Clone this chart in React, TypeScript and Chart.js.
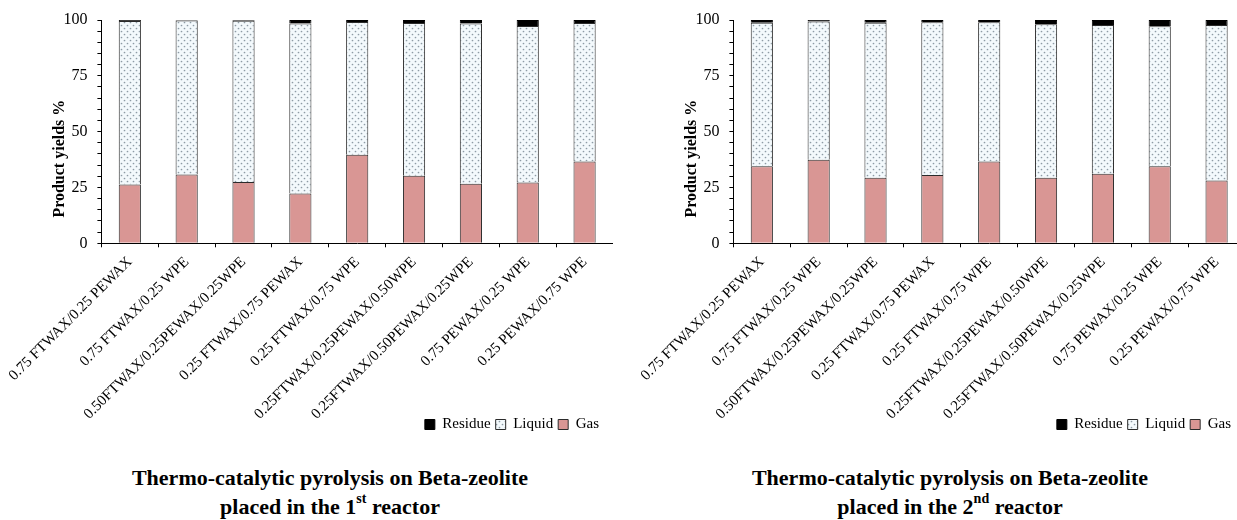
import React, { useEffect, useRef } from 'react';
import { Chart, registerables } from 'chart.js';

Chart.register(...registerables);

const FONT = "'Liberation Serif', 'Times New Roman', serif";

const categories = [
  '0.75 FTWAX/0.25 PEWAX',
  '0.75 FTWAX/0.25 WPE',
  '0.50FTWAX/0.25PEWAX/0.25WPE',
  '0.25 FTWAX/0.75 PEWAX',
  '0.25 FTWAX/0.75 WPE',
  '0.25FTWAX/0.25PEWAX/0.50WPE',
  '0.25FTWAX/0.50PEWAX/0.25WPE',
  '0.75 PEWAX/0.25 WPE',
  '0.25 PEWAX/0.75 WPE',
];

const yTickLabels = [0, 25, 50, 75, 100];

// Beta-zeolite in the 1st reactor
const gasReactor1 = [26.3, 30.8, 27.5, 22.3, 39.7, 30.3, 26.7, 27.2, 36.6];
const liquidReactor1 = [73.2, 69.0, 72.2, 76.1, 59.4, 68.4, 71.7, 70.1, 62.1];
const residueReactor1 = [0.5, 0.2, 0.3, 1.6, 0.9, 1.3, 1.6, 2.7, 1.3];

// Beta-zeolite in the 2nd reactor
const gasReactor2 = [34.5, 37.4, 29.4, 30.6, 36.6, 29.4, 31.1, 34.5, 28.1];
const liquidReactor2 = [64.3, 61.9, 69.4, 68.4, 62.4, 68.7, 66.7, 62.7, 69.7];
const residueReactor2 = [1.2, 0.7, 1.2, 1.0, 1.0, 1.9, 2.2, 2.8, 2.2];

const CANVAS_W = 613;
const CANVAS_H = 442;
const LEGEND_RIGHT = 604;

function dottedPattern(ctx: CanvasRenderingContext2D): CanvasPattern | string {
  const tile = document.createElement('canvas');
  tile.width = 6;
  tile.height = 6;
  const t = tile.getContext('2d');
  if (!t) return '#f3f9fc';
  t.fillStyle = '#f3f9fc';
  t.fillRect(0, 0, 6, 6);
  t.fillStyle = '#8d9ba4';
  t.beginPath();
  t.arc(1.5, 1.5, 0.85, 0, Math.PI * 2);
  t.arc(4.5, 4.5, 0.85, 0, Math.PI * 2);
  t.fill();
  return ctx.createPattern(tile, 'repeat') || '#f3f9fc';
}

// Layout tweaks: long category labels may run past the axis box into the
// legend row, the legend ends short of the plot's right edge, and the
// rotated value-axis caption sits slightly below the middle of the axis.
const layoutPlugin = {
  id: 'yieldLayout',
  afterLayout(chart: any) {
    const lg = chart.legend;
    if (lg) {
      lg.right = LEGEND_RIGHT;
      lg.width = lg.right - lg.left;
    }
    const x = chart.scales.x;
    if (x) x.bottom = chart.height;
  },
  afterDraw(chart: any) {
    const { ctx, chartArea } = chart;
    ctx.save();
    ctx.translate(chartArea.left - 42, (chartArea.top + chartArea.bottom) / 2 + 27);
    ctx.rotate(-Math.PI / 2);
    ctx.font = `bold 16px ${FONT}`;
    ctx.fillStyle = '#000';
    ctx.textAlign = 'center';
    ctx.textBaseline = 'middle';
    ctx.fillText('Product yields %', 0, 0);
    ctx.restore();
  },
};

function YieldChart({ gas, liquid, residue }: { gas: number[]; liquid: number[]; residue: number[] }) {
  const ref = useRef<HTMLCanvasElement | null>(null);

  useEffect(() => {
    const canvas = ref.current;
    if (!canvas) return;
    const ctx = canvas.getContext('2d');
    if (!ctx) return;
    const liquidFill = dottedPattern(ctx);
    const border = '#2b2b2b';

    const chart = new Chart(canvas, {
      type: 'bar',
      data: {
        labels: categories,
        datasets: [
          {
            label: 'Gas',
            data: gas,
            backgroundColor: '#d99694',
            borderColor: border,
            borderWidth: 1,
          },
          {
            label: 'Liquid',
            data: liquid,
            backgroundColor: liquidFill as any,
            borderColor: border,
            borderWidth: 1,
          },
          {
            label: 'Residue',
            data: residue,
            backgroundColor: '#000000',
            borderColor: '#000000',
            borderWidth: 1,
          },
        ],
      },
      options: {
        animation: false,
        responsive: false,
        maintainAspectRatio: false,
        datasets: { bar: { categoryPercentage: 1, barPercentage: 0.39 } },
        layout: { padding: { top: 20, left: 0, right: 0, bottom: 0 } },
        plugins: {
          legend: {
            position: 'bottom',
            align: 'end',
            reverse: true,
            labels: {
              boxWidth: 10,
              boxHeight: 10,
              padding: 5,
              color: '#000',
              font: { family: FONT, size: 15 },
            },
          },
          tooltip: { enabled: false },
        },
        scales: {
          x: {
            stacked: true,
            grid: {
              display: true,
              drawOnChartArea: false,
              drawTicks: true,
              tickLength: 4,
              color: '#000',
              offset: true,
            },
            border: { display: true, color: '#000', width: 1 },
            ticks: {
              autoSkip: false,
              minRotation: 45,
              maxRotation: 45,
              padding: 6,
              color: '#000',
              font: { family: FONT, size: 15 },
            },
            afterFit(scale: any) {
              scale.height = 168.7;
            },
          },
          y: {
            stacked: true,
            min: 0,
            max: 100,
            grid: {
              display: true,
              drawOnChartArea: false,
              drawTicks: true,
              tickLength: 4,
              color: '#000',
            },
            border: { display: true, color: '#000', width: 1 },
            ticks: {
              stepSize: 5,
              autoSkip: false,
              padding: 10,
              color: '#000',
              font: { family: FONT, size: 16 },
              callback: (v: any) => (yTickLabels.includes(Number(v)) ? String(v) : ''),
            },
            afterFit(scale: any) {
              scale.width = 97;
            },
          },
        },
      },
      plugins: [layoutPlugin],
    });

    return () => chart.destroy();
  }, [gas, liquid, residue]);

  return <canvas ref={ref} width={CANVAS_W} height={CANVAS_H} style={{ display: 'block', width: CANVAS_W, height: CANVAS_H }} />;
}

function Caption({ ordinal, suffix }: { ordinal: string; suffix: string }) {
  return (
    <div
      style={{
        fontFamily: FONT,
        fontWeight: 'bold',
        fontSize: 22,
        lineHeight: '29px',
        textAlign: 'center',
        color: '#000',
      }}
    >
      <div>Thermo-catalytic pyrolysis on Beta-zeolite</div>
      <div>
        placed in the {ordinal}
        <sup style={{ fontSize: 14, lineHeight: 0, verticalAlign: 'top', position: 'relative', top: 7 }}>{suffix}</sup> reactor
      </div>
    </div>
  );
}

export default function App() {
  return (
    <div style={{ position: 'fixed', left: 0, top: 0, width: 1237, height: 520, overflow: 'hidden', background: '#fff' }}>
      <div style={{ position: 'absolute', left: 0, top: 0 }}>
        <YieldChart gas={gasReactor1} liquid={liquidReactor1} residue={residueReactor1} />
      </div>
      <div style={{ position: 'absolute', left: 632, top: 0 }}>
        <YieldChart gas={gasReactor2} liquid={liquidReactor2} residue={residueReactor2} />
      </div>
      <div style={{ position: 'absolute', left: 0, top: 463, width: 660 }}>
        <Caption ordinal="1" suffix="st" />
      </div>
      <div style={{ position: 'absolute', left: 640, top: 463, width: 620 }}>
        <Caption ordinal="2" suffix="nd" />
      </div>
    </div>
  );
}
